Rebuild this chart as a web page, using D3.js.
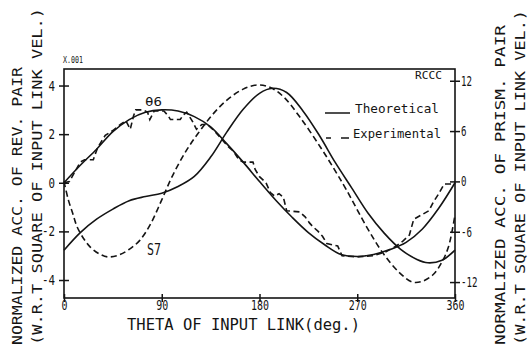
<!DOCTYPE html>
<html>
<head>
<meta charset="utf-8">
<script src="https://cdnjs.cloudflare.com/ajax/libs/d3/7.8.5/d3.min.js"></script>
<style>
body { margin: 0; background: #fff; }
#chart-area svg { display: block; }
</style>
</head>
<body>
<div id="chart-area"></div>
<script>

// axis ticks
var xTicks = [0, 90, 180, 270, 360];
var leftTicks = [4, 2, 0, -2, -4];
var rightTicks = [12, 6, 0, -6, -12];

// theta6, theoretical (left axis, x.001)
var thetaT6 = [0, 15, 30, 45, 60, 75, 90, 105, 120, 135, 150, 165, 180, 195, 210, 225, 240, 255, 270, 285, 300, 315, 330, 345, 360];
var accT6 = [0, 0.72, 1.38, 2.1, 2.6, 2.9, 3.0, 2.95, 2.72, 2.3, 1.6, 0.85, 0.05, -0.72, -1.42, -2.05, -2.55, -2.95, -3.03, -2.95, -2.75, -2.45, -1.9, -1.05, 0];

// theta6, experimental (left axis) - digitized, stepped
var thetaE6 = [0, 5, 10, 15, 19, 27, 31, 38, 45, 52, 57, 61, 64, 66, 73, 77, 79, 83, 92, 96, 98, 107, 110, 113, 118, 122, 127, 132, 138, 146, 152, 156, 161, 165, 174, 176, 180, 186, 190, 194, 198, 202, 205, 217, 222, 226, 229, 234, 238, 242, 252, 256, 270, 285, 296, 306, 312, 318, 322, 330, 336, 340, 345, 350, 358, 360];
var accE6 = [0, 0.05, 0.45, 0.85, 0.95, 0.95, 1.45, 1.95, 2.15, 2.4, 2.55, 2.2, 2.75, 3.0, 3.0, 2.9, 2.6, 2.95, 2.95, 2.75, 2.6, 2.6, 2.8, 2.9, 2.55, 2.2, 2.4, 2.4, 2.15, 1.75, 1.45, 1.3, 0.95, 0.85, 0.85, 0.55, 0.25, 0.0, -0.4, -0.55, -0.45, -0.6, -1.15, -1.2, -1.4, -1.65, -1.8, -2.0, -2.2, -2.5, -2.6, -3.0, -3.05, -3.0, -2.85, -2.6, -2.4, -2.15, -1.5, -1.3, -1.15, -0.8, -0.45, -0.05, -0.05, 0];

// S7, theoretical (right axis)
var thetaT7 = [0, 15, 30, 45, 60, 75, 90, 105, 120, 135, 150, 165, 180, 192, 205, 220, 235, 250, 265, 280, 295, 310, 325, 335, 348, 360];
var accT7 = [-8.2, -6.1, -4.5, -3.3, -2.3, -1.8, -1.4, -0.6, 0.6, 2.9, 5.9, 8.6, 10.5, 11.1, 10.6, 8.4, 5.5, 2.2, -0.8, -3.8, -6.2, -8.1, -9.3, -9.7, -9.4, -8.2];

// S7, experimental (right axis)
var thetaE7 = [0, 4, 8, 12, 18, 24, 32, 40, 50, 60, 70, 80, 90, 100, 113, 125, 137, 150, 165, 178, 190, 202, 217, 236, 250, 260, 279, 294, 309, 321, 330, 340, 348, 354, 360];
var accE7 = [0, -2.2, -3.8, -5.4, -6.8, -7.8, -8.6, -9.0, -8.8, -8.1, -7.0, -5.0, -2.2, 0.7, 3.75, 6.0, 8.0, 9.7, 11.0, 11.5, 11.2, 10.1, 7.7, 4.1, 1.2, -1.0, -5.5, -8.6, -10.9, -12.0, -11.9, -11.1, -9.6, -7.8, -4.0];

var FONT = "'DejaVu Sans Mono', monospace";
var INK = "#141414";

ChartVis = function(_parentElement){
    this.parentElement = _parentElement;
    this.initVis();
}

ChartVis.prototype.initVis = function(){
    var vis = this;

    vis.margin = { top: 69, right: 77, bottom: 50, left: 64 };
    vis.width = 532 - vis.margin.left - vis.margin.right;
    vis.height = 348 - vis.margin.top - vis.margin.bottom;

    vis.root = d3.select("#" + vis.parentElement).append("svg")
        .attr("width", 532)
        .attr("height", 348)
        .style("background", "#fff");

    vis.svg = vis.root.append("g")
        .attr("transform", "translate(" + vis.margin.left + "," + vis.margin.top + ")");

    vis.x = d3.scaleLinear().domain([0, 360]).range([0, vis.width]);
    vis.yLeft = d3.scaleLinear().domain([-4.74, 4.68]).range([vis.height, 0]);
    vis.yRight = d3.scaleLinear().domain([-13.9, 13.4]).range([vis.height, 0]);

    vis.wrangleData();
};

ChartVis.prototype.wrangleData = function(){
    var vis = this;

    function zip(t, v){
        return t.map(function(d, i){ return { theta: d, value: v[i] }; });
    }

    vis.series = [
        { data: zip(thetaT6, accT6), axis: "left", dashed: false, smooth: true },
        { data: zip(thetaE6, accE6), axis: "left", dashed: true, smooth: false },
        { data: zip(thetaT7, accT7), axis: "right", dashed: false, smooth: true },
        { data: zip(thetaE7, accE7), axis: "right", dashed: true, smooth: true }
    ];

    vis.updateVis();
};

ChartVis.prototype.updateVis = function(){
    var vis = this;

    // frame
    vis.svg.append("rect")
        .attr("width", vis.width)
        .attr("height", vis.height)
        .attr("fill", "none")
        .attr("stroke", INK)
        .attr("stroke-width", 1.6);

    // left axis
    vis.svg.append("g")
        .call(d3.axisLeft(vis.yLeft).tickValues(leftTicks).tickSize(5).tickPadding(4)
            .tickFormat(function(d){ return String(d); }))
        .call(function(g){ g.select(".domain").remove(); })
        .call(function(g){
            g.selectAll(".tick line").attr("x1", 5).attr("stroke", INK).attr("stroke-width", 1.5);
            g.selectAll(".tick text")
                .attr("font-family", FONT).attr("font-size", 14).attr("fill", INK)
                .attr("textLength", function(d){ return String(d).length * 6.5; })
                .attr("lengthAdjust", "spacingAndGlyphs");
        });

    // right axis
    vis.svg.append("g")
        .attr("transform", "translate(" + vis.width + ",0)")
        .call(d3.axisRight(vis.yRight).tickValues(rightTicks).tickSize(5).tickPadding(1)
            .tickFormat(function(d){ return String(d); }))
        .call(function(g){ g.select(".domain").remove(); })
        .call(function(g){
            g.selectAll(".tick line").attr("x1", -5).attr("stroke", INK).attr("stroke-width", 1.5);
            g.selectAll(".tick text")
                .attr("font-family", FONT).attr("font-size", 14).attr("fill", INK)
                .attr("textLength", function(d){ return String(d).length * 5.5; })
                .attr("lengthAdjust", "spacingAndGlyphs");
        });

    // bottom axis
    vis.svg.append("g")
        .attr("transform", "translate(0," + vis.height + ")")
        .call(d3.axisBottom(vis.x).tickValues(xTicks).tickSize(4)
            .tickFormat(function(d){ return String(d); }))
        .call(function(g){ g.select(".domain").remove(); })
        .call(function(g){
            g.selectAll(".tick line").attr("y1", -4).attr("stroke", INK).attr("stroke-width", 1.5);
            g.selectAll(".tick text")
                .attr("y", 2)
                .attr("font-family", FONT).attr("font-size", 14).attr("fill", INK)
                .attr("textLength", function(d){ return String(d).length * 6; })
                .attr("lengthAdjust", "spacingAndGlyphs");
        });

    // curves
    vis.svg.selectAll(".curve")
        .data(vis.series)
        .enter()
        .append("path")
        .attr("class", "curve")
        .attr("fill", "none")
        .attr("stroke", INK)
        .attr("stroke-width", 1.6)
        .attr("stroke-dasharray", function(d){ return d.dashed ? "6,3.5" : null; })
        .attr("d", function(s){
            var y = s.axis == "left" ? vis.yLeft : vis.yRight;
            return d3.line()
                .x(function(d){ return vis.x(d.theta); })
                .y(function(d){ return y(d.value); })
                .curve(s.smooth ? d3.curveCatmullRom.alpha(0.5) : d3.curveLinear)(s.data);
        });

    // labels
    function label(parent, txt, x, y, size, len, rotate){
        var t = parent.append("text")
            .attr("font-family", FONT)
            .attr("font-size", size)
            .attr("fill", INK)
            .text(txt);
        if (rotate) {
            t.attr("transform", "translate(" + x + "," + y + ") rotate(-90)");
        } else {
            t.attr("x", x).attr("y", y);
        }
        if (len) t.attr("textLength", len).attr("lengthAdjust", "spacingAndGlyphs");
        return t;
    }

    label(vis.root, "NORMALIZED ACC. OF REV. PAIR", 22, 345, 14, 278, true);
    label(vis.root, "(W.R.T SQUARE OF INPUT LINK VEL.)", 42, 345, 14, 337, true);
    label(vis.root, "NORMALIZED ACC. OF PRISM. PAIR", 505, 345, 14, 320, true);
    label(vis.root, "(W.R.T SQUARE OF INPUT LINK VEL.)", 525, 345, 14, 335, true);
    label(vis.root, "THETA OF INPUT LINK(deg.)", 127, 330, 15, 233, false);

    label(vis.root, "X.001", 63, 63, 9, 20, false);
    label(vis.root, "RCCC", 415, 79, 10, 27, false);
    label(vis.root, "θ6", 145, 106, 13, 17, false);
    label(vis.root, "S7", 147, 255, 15, 14, false);

    // legend
    vis.root.append("line")
        .attr("x1", 325).attr("x2", 350).attr("y1", 113).attr("y2", 113)
        .attr("stroke", INK).attr("stroke-width", 1.5);
    label(vis.root, "Theoretical", 355, 113, 12, 84, false);

    vis.root.append("line")
        .attr("x1", 326).attr("x2", 349).attr("y1", 138).attr("y2", 138)
        .attr("stroke", INK).attr("stroke-width", 1.5)
        .attr("stroke-dasharray", "5,10,8");
    label(vis.root, "Experimental", 353, 138, 12, 88, false);
};

var chart = new ChartVis("chart-area");
</script>
</body>
</html>
